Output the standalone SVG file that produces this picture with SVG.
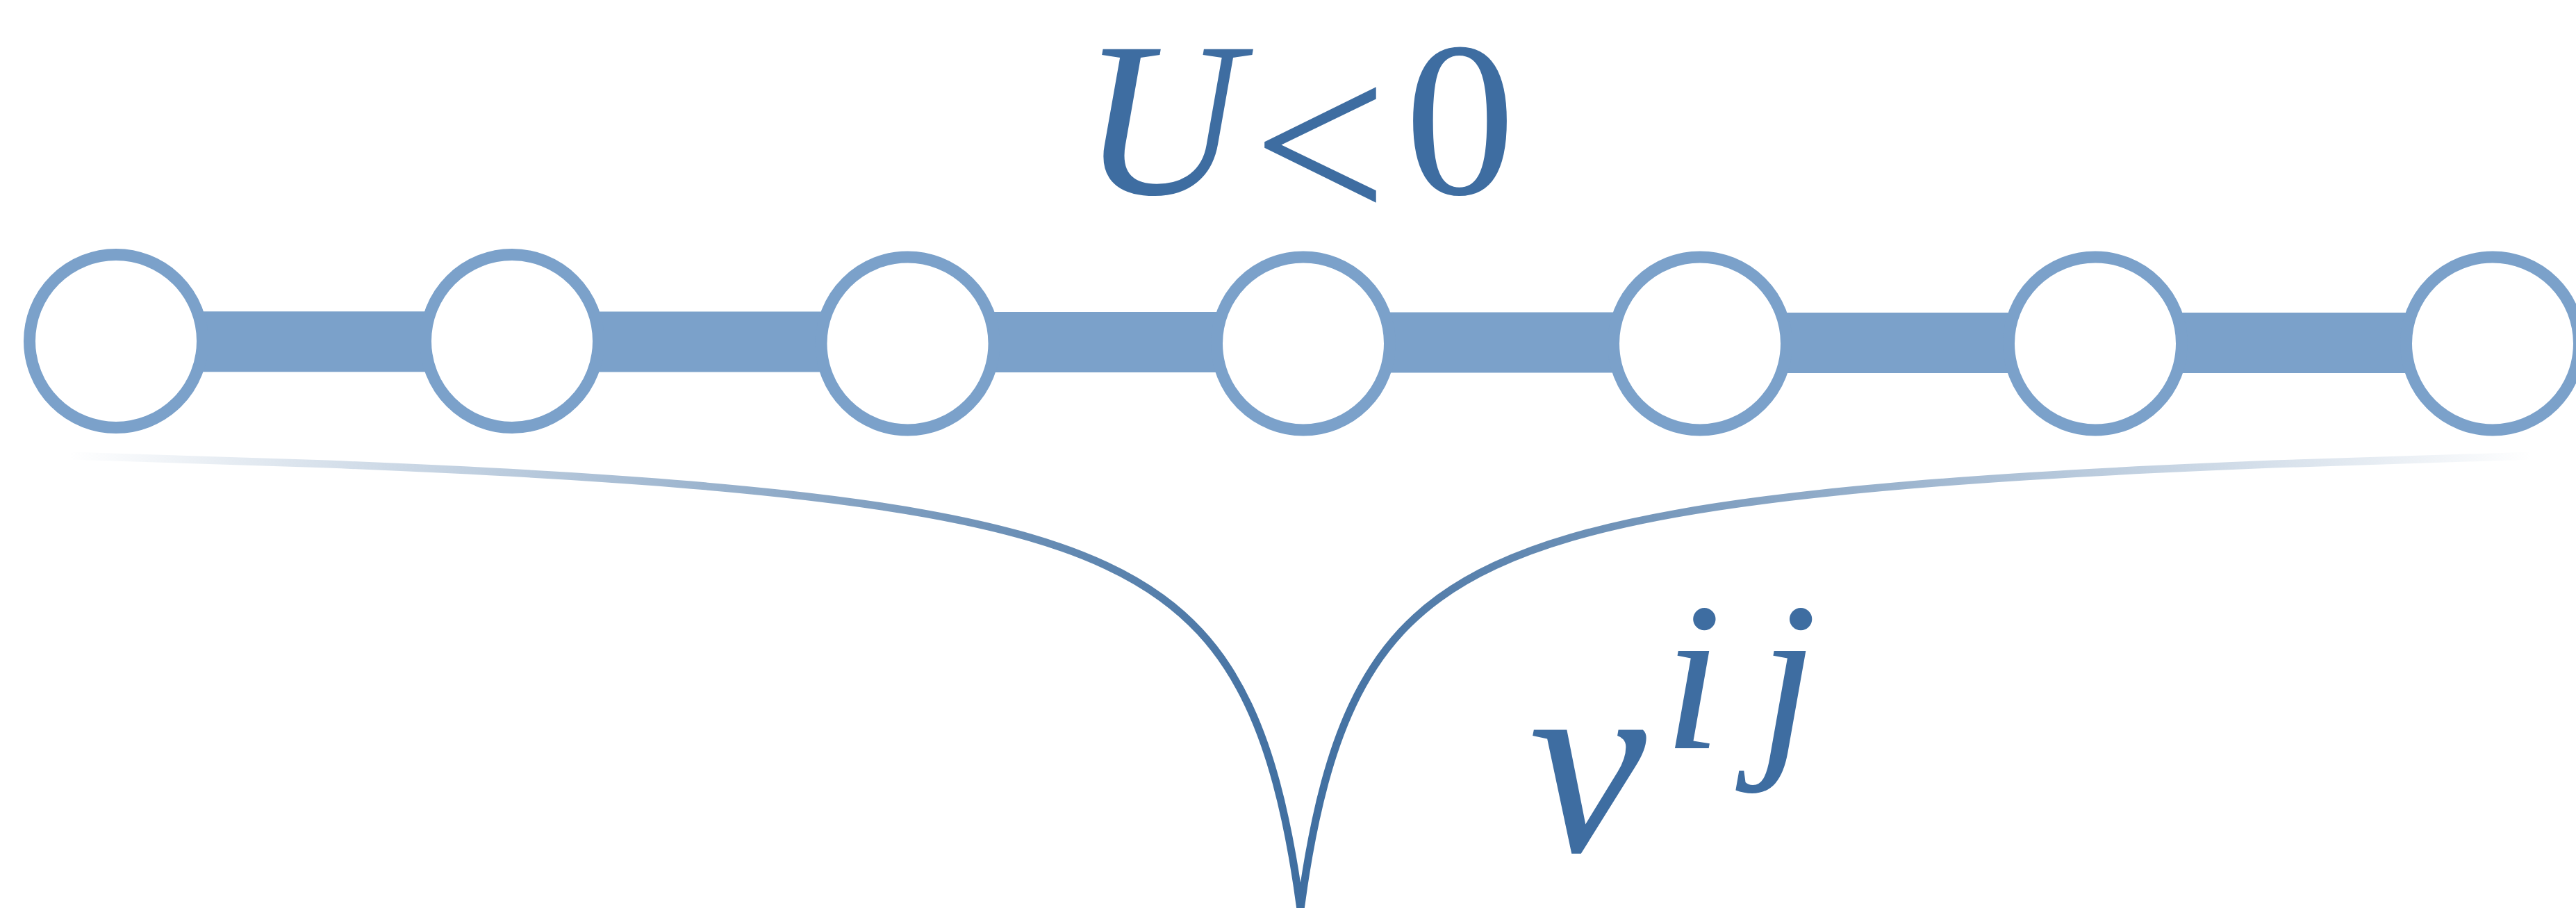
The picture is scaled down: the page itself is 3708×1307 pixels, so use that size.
<svg xmlns="http://www.w3.org/2000/svg" width="3708" height="1307" viewBox="0 0 3708 1307">
  <defs>
    <linearGradient id="fade" gradientUnits="userSpaceOnUse" x1="99" y1="0" x2="3645" y2="0">
      <stop offset="0" stop-color="#3F6EA0" stop-opacity="0"/>
      <stop offset="0.5" stop-color="#3F6EA0" stop-opacity="1"/>
      <stop offset="1" stop-color="#3F6EA0" stop-opacity="0"/>
    </linearGradient>
    <style>
      .site { fill: #FFFFFF; stroke: #7BA1CA; stroke-width: 17; }
      .bond { fill: #7BA1CA; stroke: none; }
      .pot { fill: none; stroke: url(#fade); stroke-width: 11; stroke-linejoin: miter; stroke-miterlimit: 40; }
      .math { fill: #3E6DA1; font-family: "Liberation Serif", "Times New Roman", serif; }
      .it { font-style: italic; }
    </style>
  </defs>
  <rect width="3708" height="1307" fill="#FFFFFF"/>

  <g id="connectors">
    <rect class="bond" x="167" y="448.3" width="570" height="87"/>
    <rect class="bond" x="737" y="448.5" width="570" height="87"/>
    <rect class="bond" x="1306" y="449" width="570" height="87"/>
    <rect class="bond" x="1876" y="449.5" width="571" height="87"/>
    <rect class="bond" x="2447" y="450" width="570" height="87"/>
    <rect class="bond" x="3016" y="450" width="572" height="87"/>
  </g>

  <g id="potential">
    <path class="pot" d="M99,656 C223.33,659.32 347.67,663.19 472,668.1 C588.67,672.71 705.33,678.15 822,685.5 C922,691.8 1022,699.43 1122,710.2 C1192,717.74 1262,726.77 1332,739.3 C1382,748.25 1432,758.95 1482,773.5 C1518.67,784.17 1555.33,796.91 1592,814 C1618.67,826.43 1645.33,841.09 1672,860.5 C1690.33,873.85 1708.67,889.36 1727,909.1 C1740.33,923.46 1753.67,940.03 1767,960.5 C1777,975.85 1787,993.39 1797,1014.6 C1804.67,1030.86 1812.33,1049.22 1820,1071.1 C1825.67,1087.27 1831.33,1105.37 1837,1126.3 C1841.33,1142.31 1845.67,1160 1850,1180.1 C1853.33,1195.56 1856.67,1212.45 1860,1231.3 C1862.33,1244.49 1864.67,1258.62 1867,1274 C1868.67,1284.99 1870.33,1296.63 1872,1309 C1873.67,1296.63 1875.33,1284.99 1877,1274 C1879.33,1258.62 1881.67,1244.49 1884,1231.3 C1887.33,1212.45 1890.67,1195.56 1894,1180.1 C1898.33,1160 1902.67,1142.31 1907,1126.3 C1912.67,1105.37 1918.33,1087.27 1924,1071.1 C1931.67,1049.22 1939.33,1030.86 1947,1014.6 C1957,993.39 1967,975.85 1977,960.5 C1990.33,940.03 2003.67,923.46 2017,909.1 C2035.33,889.36 2053.67,873.85 2072,860.5 C2098.67,841.09 2125.33,826.43 2152,814 C2188.67,796.91 2225.33,784.17 2262,773.5 C2312,758.95 2362,748.25 2412,739.3 C2482,726.77 2552,717.74 2622,710.2 C2722,699.43 2822,691.8 2922,685.5 C3038.67,678.15 3155.33,672.71 3272,668.1 C3396.33,663.19 3520.67,659.32 3645,656"/>
  </g>

  <g id="node1"><circle class="site" cx="167" cy="491" r="124.5"/></g>
  <g id="node2"><circle class="site" cx="737" cy="491" r="124.5"/></g>
  <g id="node3"><circle class="site" cx="1306.5" cy="494.5" r="124.5"/></g>
  <g id="node4"><circle class="site" cx="1876" cy="494.5" r="124.5"/></g>
  <g id="node5"><circle class="site" cx="2447" cy="494.5" r="124.5"/></g>
  <g id="node6"><circle class="site" cx="3016" cy="494.5" r="124.5"/></g>
  <g id="node7"><circle class="site" cx="3588" cy="494.5" r="124.5"/></g>

  <g id="label-U">
    <text class="math it" x="1557" y="279" font-size="318">U</text>
    <text class="math" x="1803" y="323" font-size="345">&lt;</text>
    <text class="math" x="2022" y="279" font-size="318">0</text>
  </g>
  <g id="label-v">
    <text class="math it" x="2201" y="1225" font-size="380">v</text>
    <text class="math it" x="2394" y="1077" font-size="305">i</text>
    <text class="math it" x="2531" y="1077" font-size="305">j</text>
  </g>
</svg>
